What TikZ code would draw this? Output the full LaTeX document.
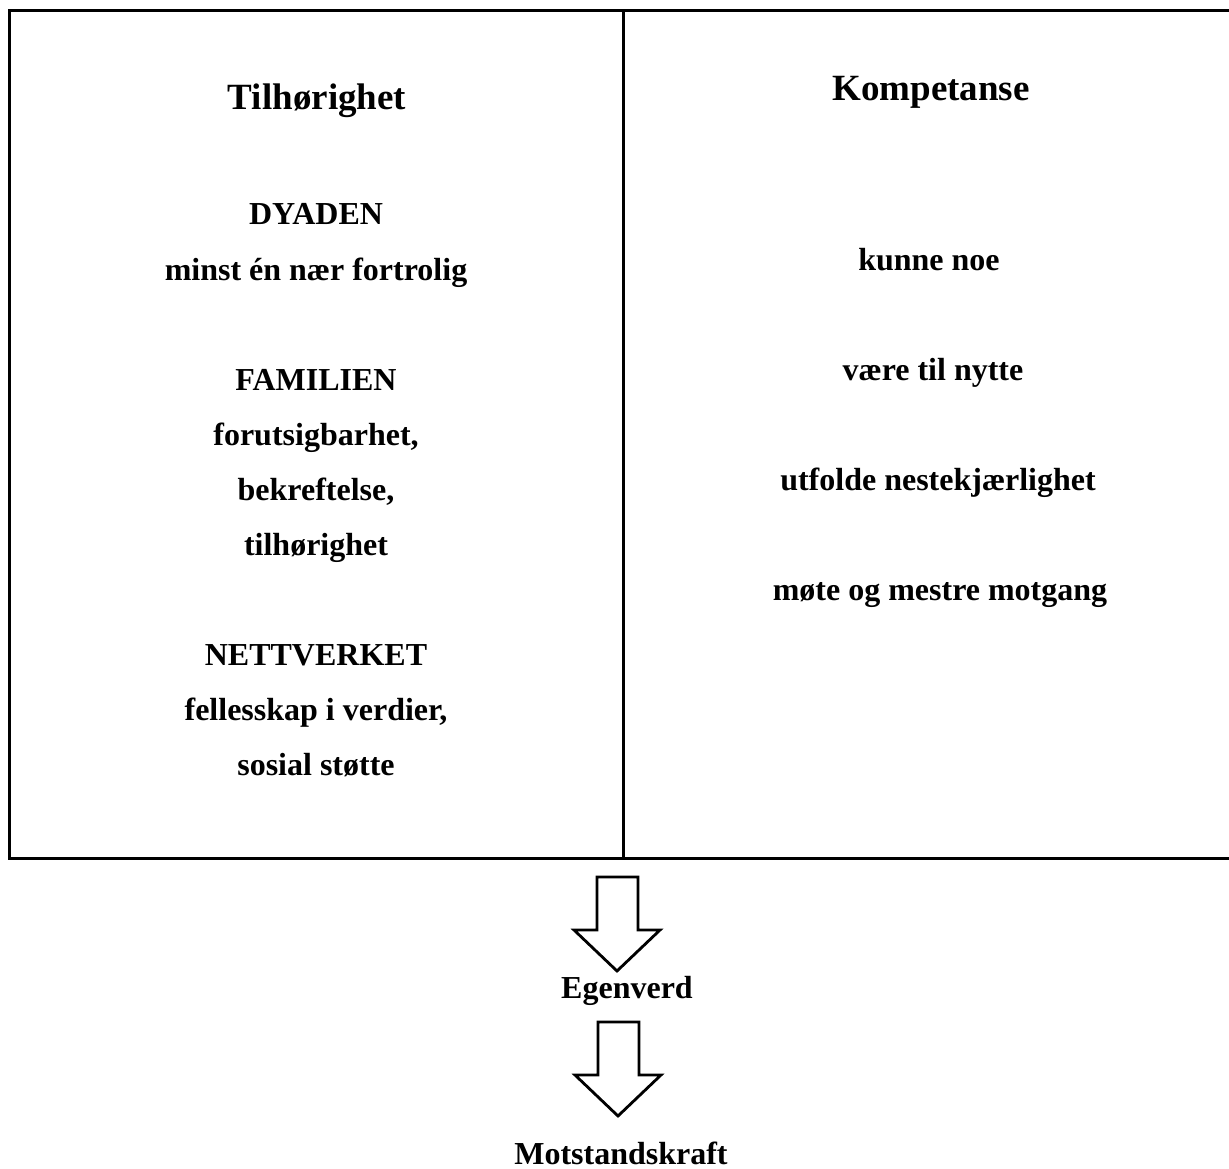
\documentclass[tikz,border=0pt]{standalone}
\usepackage{fontspec}
\setmainfont{Liberation Serif}
\begin{document}
\begin{tikzpicture}[x=1pt,y=-1pt,
  frame/.style={line width=3pt},
  body/.style={font=\bfseries\fontsize{32}{38}\selectfont, anchor=base, inner sep=0pt},
  title/.style={font=\bfseries\fontsize{37}{44}\selectfont, anchor=base, inner sep=0pt},
  blockarrow/.style={line width=2.8pt, line join=miter, fill=white}]
\useasboundingbox (0,0) rectangle (1229,1169);
% frame
\draw[frame] (1229,11) -- (9,11) -- (9,858) -- (1229,858);
\draw[frame] (623,11) -- (623,858);
% left column
\node[title] (t1) at (317,110) {Tilhørighet};
\node[body] (l1) at (316,225) {DYADEN};
\node[body] (l2) at (316,280) {minst én nær fortrolig};
\node[body] (l3) at (316,390) {FAMILIEN};
\node[body] (l4) at (316,445) {forutsigbarhet,};
\node[body] (l5) at (316,500) {bekreftelse,};
\node[body] (l6) at (316,555) {tilhørighet};
\node[body] (l7) at (316,665) {NETTVERKET};
\node[body] (l8) at (316,720) {fellesskap i verdier,};
\node[body] (l9) at (316,775) {sosial støtte};
% right column
\node[title] (t2) at (931,101) {Kompetanse};
\node[body] (r1) at (929,270) {kunne noe};
\node[body] (r2) at (933,380) {være til nytte};
\node[body] (r3) at (938,490) {utfolde nestekjærlighet};
\node[body] (r4) at (940,600) {møte og mestre motgang};
% bottom
\node[body] (e) at (627,998) {Egenverd};
\node[body] (m) at (621,1164) {Motstandskraft};
% block arrows
\draw[blockarrow] (597,877) -- (638,877) -- (638,930) -- (660,930) -- (617,971) -- (574,930) -- (597,930) -- cycle;
\draw[blockarrow] (598,1022) -- (639,1022) -- (639,1075) -- (661,1075) -- (618,1116) -- (575,1075) -- (598,1075) -- cycle;
\end{tikzpicture}
\end{document}
